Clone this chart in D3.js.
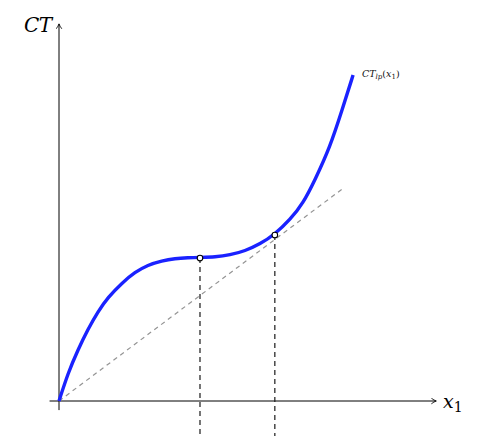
<!DOCTYPE html>
<html><head><meta charset="utf-8">
<script src="https://cdn.jsdelivr.net/npm/d3@7"></script>
<style>body{margin:0;background:#fff}svg{display:block}</style>
</head><body>
<script>
// Data (units: output x1, cost CT)
const curveX = [0, .24, .50, .77, 1.03, 1.30, 1.67, 2.01, 2.35, 2.72, 3.07, 3.41, 3.73, 4.13, 4.52, 4.92, 5.32, 5.71, 6.11, 6.46, 6.77, 7.17, 7.49, 7.78];
const curveY = [0, .74, 1.35, 1.90, 2.36, 2.74, 3.12, 3.40, 3.59, 3.70, 3.76, 3.78, 3.79, 3.80, 3.85, 3.96, 4.14, 4.40, 4.78, 5.22, 5.83, 6.70, 7.68, 8.60];
const rayX = [0, 7.49];
const rayY = [0, 5.59];
const markX = [3.73, 5.71];
const markY = [3.77, 4.38];
const labels = {y: "CT", x: "x", xSub: "1", curve: "CT", curveSub: "lp", curveArg: "x", curveArgSub: "1"};

const W = 481, H = 436;
const x = d3.scaleLinear().domain([0, 10]).range([59, 437]);
const y = d3.scaleLinear().domain([0, 10]).range([401, 22]);

const svg = d3.select("body").append("svg").attr("width", W).attr("height", H);
svg.append("defs").append("marker").attr("id", "arr")
  .attr("viewBox", "0 0 10 10").attr("refX", 9).attr("refY", 5)
  .attr("markerWidth", 7).attr("markerHeight", 7).attr("markerUnits", "userSpaceOnUse")
  .attr("orient", "auto")
  .append("path").attr("d", "M2,1 Q6,4 9,5 Q6,6 2,9").attr("fill", "none").attr("stroke", "#000").attr("stroke-width", 1.2);

// axes
svg.append("line").attr("x1", x(-0.25)).attr("y1", y(0)).attr("x2", x(9.98)).attr("y2", y(0))
  .attr("stroke", "#000").attr("stroke-width", 1).attr("marker-end", "url(#arr)");
svg.append("line").attr("x1", x(0)).attr("y1", y(-0.24)).attr("x2", x(0)).attr("y2", y(9.95))
  .attr("stroke", "#000").attr("stroke-width", 1).attr("marker-end", "url(#arr)");

// ray from origin
svg.append("line").attr("x1", x(rayX[0])).attr("y1", y(rayY[0])).attr("x2", x(rayX[1])).attr("y2", y(rayY[1]))
  .attr("stroke", "#949494").attr("stroke-width", 1.2).attr("stroke-dasharray", "4.5,4");

// vertical dashed lines
markX.forEach((mx, i) => {
  svg.append("line").attr("x1", x(mx)).attr("x2", x(mx)).attr("y1", y(markY[i])).attr("y2", y(-0.95))
    .attr("stroke", "#1a1a1a").attr("stroke-width", 1.2).attr("stroke-dasharray", "5,4");
});

// curve
const pts = curveX.map((v, i) => [v, curveY[i]]);
svg.append("path").datum(pts)
  .attr("d", d3.line().x(d => x(d[0])).y(d => y(d[1])).curve(d3.curveBasis))
  .attr("fill", "none").attr("stroke", "#1a22ff").attr("stroke-width", 3.4).attr("stroke-linecap", "butt");

// markers
svg.selectAll("circle.m").data(markX).enter().append("circle")
  .attr("cx", d => x(d)).attr("cy", (d, i) => y(markY[i])).attr("r", 2.8)
  .attr("fill", "#fff").attr("stroke", "#000").attr("stroke-width", 1.1);

// labels
const font = "'DejaVu Serif', serif";
svg.append("text").attr("x", 24).attr("y", 32).attr("font-family", font).attr("font-style", "italic")
  .attr("font-size", 20).attr("textLength", 28).text(labels.y);
const xl = svg.append("text").attr("x", 443).attr("y", 408).attr("font-family", font).attr("font-style", "italic").attr("font-size", 19);
xl.append("tspan").text(labels.x);
xl.append("tspan").attr("font-style", "normal").attr("font-size", 14).attr("dy", 4).text(labels.xSub);
const cl = svg.append("text").attr("x", 362).attr("y", 77).attr("font-family", font).attr("font-style", "italic").attr("font-size", 9.5).attr("fill", "#111");
cl.append("tspan").text(labels.curve);
cl.append("tspan").attr("font-size", 7).attr("dy", 2).text(labels.curveSub);
cl.append("tspan").attr("font-style", "normal").attr("dy", -2).text("(");
cl.append("tspan").text(labels.curveArg);
cl.append("tspan").attr("font-style", "normal").attr("font-size", 7).attr("dy", 2).text(labels.curveArgSub);
cl.append("tspan").attr("font-style", "normal").attr("dy", -2).text(")");
</script>
</body></html>
